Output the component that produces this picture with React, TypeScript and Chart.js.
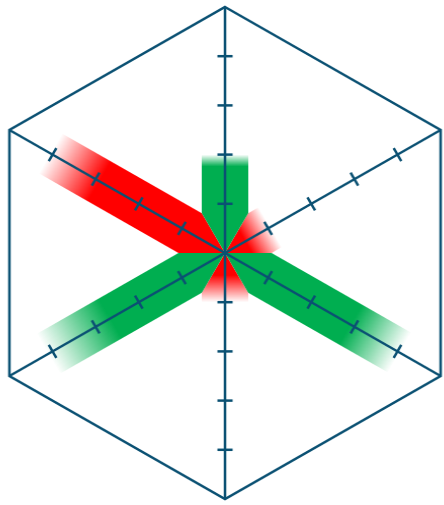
import React, { useEffect, useRef } from "react";
import { Chart, registerables } from "chart.js";

Chart.register(...registerables);

// ---- data ----
const categories = ["A", "B", "C", "D", "E", "F"];
const redValues: (number | null)[] = [null, 1.05, null, 1.0, null, 4.05];
const greenValues: (number | null)[] = [2.0, null, 4.05, null, 4.1, null];
const scaleMin = 0;
const scaleMax = 5;
const tickValues = [1, 2, 3, 4];

// ---- style ----
const AXIS_COLOR = "#0b5173";
const LINE_WIDTH = 2.5;
const RED = [255, 0, 0];
const GREEN = [0, 174, 80];
// fraction of each bar's length where the fade-out starts
const redFade = [0, 0.45, 0, 0.45, 0, 0.72];
const greenFade = [0.88, 0, 0.72, 0, 0.65, 0];
const BAR_HALF_WIDTH = 23;
const TICK_HALF_LEN = 7.5;

const rgba = (c: number[], a: number) => `rgba(${c[0]},${c[1]},${c[2]},${a})`;

const barPlugin = {
  id: "axisBars",
  beforeDraw(chart: any) {
    const scale = chart.scales.r;
    const ctx: CanvasRenderingContext2D = chart.ctx;
    const cx = scale.xCenter;
    const cy = scale.yCenter;
    const n = chart.data.labels.length;
    chart.data.datasets.forEach((ds: any) => {
      const col = ds._rgb as number[];
      const fades = ds._fade as number[];
      ds.data.forEach((v: number | null, i: number) => {
        if (v == null || v <= 0) return;
        const p = scale.getPointPositionForValue(i, v);
        const dx = p.x - cx;
        const dy = p.y - cy;
        const len = Math.hypot(dx, dy);
        const ux = dx / len;
        const uy = dy / len;
        const nx = -uy;
        const ny = ux;
        const ang = Math.atan2(uy, ux);
        ctx.save();
        ctx.beginPath();
        ctx.moveTo(cx, cy);
        ctx.arc(cx, cy, 3000, ang - Math.PI / n, ang + Math.PI / n);
        ctx.closePath();
        ctx.clip();
        const g = ctx.createLinearGradient(cx, cy, p.x, p.y);
        g.addColorStop(0, rgba(col, 1));
        g.addColorStop(fades[i], rgba(col, 1));
        g.addColorStop(1, rgba(col, 0));
        ctx.fillStyle = g;
        ctx.beginPath();
        ctx.moveTo(cx + nx * BAR_HALF_WIDTH, cy + ny * BAR_HALF_WIDTH);
        ctx.lineTo(p.x + nx * BAR_HALF_WIDTH, p.y + ny * BAR_HALF_WIDTH);
        ctx.lineTo(p.x - nx * BAR_HALF_WIDTH, p.y - ny * BAR_HALF_WIDTH);
        ctx.lineTo(cx - nx * BAR_HALF_WIDTH, cy - ny * BAR_HALF_WIDTH);
        ctx.closePath();
        ctx.fill();
        ctx.restore();
      });
    });
  },
  afterDraw(chart: any) {
    const scale = chart.scales.r;
    const ctx: CanvasRenderingContext2D = chart.ctx;
    const cx = scale.xCenter;
    const cy = scale.yCenter;
    const n = chart.data.labels.length;
    ctx.save();
    ctx.strokeStyle = AXIS_COLOR;
    ctx.lineWidth = LINE_WIDTH;
    for (let i = 0; i < n; i++) {
      for (const t of tickValues) {
        const p = scale.getPointPositionForValue(i, t);
        const dx = p.x - cx;
        const dy = p.y - cy;
        const len = Math.hypot(dx, dy);
        const nx = -dy / len;
        const ny = dx / len;
        ctx.beginPath();
        ctx.moveTo(p.x + nx * TICK_HALF_LEN, p.y + ny * TICK_HALF_LEN);
        ctx.lineTo(p.x - nx * TICK_HALF_LEN, p.y - ny * TICK_HALF_LEN);
        ctx.stroke();
      }
    }
    ctx.restore();
  },
};

export default function App() {
  const ref = useRef<HTMLCanvasElement>(null);
  useEffect(() => {
    if (!ref.current) return;
    const chart = new Chart(ref.current, {
      type: "radar",
      data: {
        labels: categories,
        datasets: [
          {
            label: "Red",
            data: redValues as any,
            _rgb: RED,
            _fade: redFade,
            borderColor: "rgba(0,0,0,0)",
            backgroundColor: "rgba(0,0,0,0)",
            pointRadius: 0,
            fill: false,
          } as any,
          {
            label: "Green",
            data: greenValues as any,
            _rgb: GREEN,
            _fade: greenFade,
            borderColor: "rgba(0,0,0,0)",
            backgroundColor: "rgba(0,0,0,0)",
            pointRadius: 0,
            fill: false,
          } as any,
        ],
      },
      options: {
        animation: false,
        responsive: true,
        maintainAspectRatio: false,
        layout: { padding: 0 },
        plugins: { legend: { display: false }, tooltip: { enabled: false } },
        scales: {
          r: {
            min: scaleMin,
            max: scaleMax,
            ticks: { display: false, stepSize: 1 },
            pointLabels: { display: false },
            angleLines: { color: AXIS_COLOR, lineWidth: LINE_WIDTH },
            grid: {
              lineWidth: LINE_WIDTH,
              color: (c: any) =>
                c.tick && c.tick.value === scaleMax ? AXIS_COLOR : "rgba(0,0,0,0)",
            },
          },
        },
      },
      plugins: [barPlugin],
    });
    return () => chart.destroy();
  }, []);

  return (
    <div
      style={{
        position: "fixed",
        left: 0,
        top: 0,
        width: 444,
        height: 505,
        overflow: "hidden",
        background: "#fff",
      }}
    >
      <div
        style={{
          position: "absolute",
          left: -21,
          top: 0,
          width: 492,
          height: 506,
          transform: "scaleX(1.012)",
          transformOrigin: "246px 0px",
        }}
      >
        <canvas ref={ref} />
      </div>
    </div>
  );
}
